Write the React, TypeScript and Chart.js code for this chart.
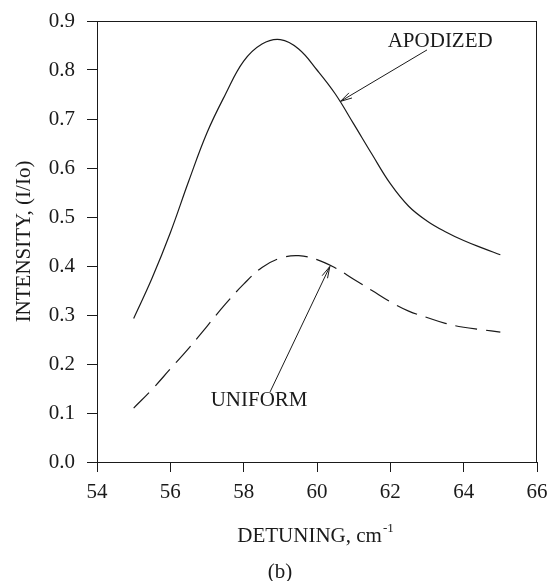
import React, { useEffect, useRef } from "react";
import { Chart, registerables } from "chart.js";

Chart.register(...registerables);

const detuning = [55, 55.5, 56, 56.5, 57, 57.5, 58, 58.5, 59, 59.5, 60, 60.5, 61, 61.5, 62, 62.5, 63, 63.5, 64, 64.5, 65];
const apodized = [0.293, 0.375, 0.468, 0.573, 0.672, 0.75, 0.818, 0.853, 0.862, 0.843, 0.8, 0.751, 0.69, 0.628, 0.568, 0.522, 0.492, 0.47, 0.452, 0.437, 0.423];
const uniform = [0.11, 0.148, 0.19, 0.232, 0.277, 0.322, 0.363, 0.397, 0.416, 0.421, 0.413, 0.396, 0.373, 0.35, 0.327, 0.308, 0.295, 0.283, 0.275, 0.27, 0.265];

const xTicks = [54, 56, 58, 60, 62, 64, 66];
const yTicks = [0, 0.1, 0.2, 0.3, 0.4, 0.5, 0.6, 0.7, 0.8, 0.9];

const seriesNames = ["APODIZED", "UNIFORM"];
// annotation anchors in data coordinates: [labelX, labelY, arrowFromX, arrowFromY, arrowToX, arrowToY]
const apodizedNote = [63.36, 0.859, 63.0, 0.841, 60.64, 0.736];
const uniformNote = [58.42, 0.125, 58.72, 0.143, 60.35, 0.399];

const xTitle = "DETUNING, cm";
const xTitleSup = "-1";
const yTitle = "INTENSITY, (I/Io)";
const caption = "(b)";

const FONT = "'Liberation Serif', 'DejaVu Serif', serif";
const INK = "#1a1a1a";
const FS = 21;

export default function App() {
  const ref = useRef<HTMLCanvasElement | null>(null);

  useEffect(() => {
    document.body.style.margin = "0";
    const canvas = ref.current!;
    const drawArrow = (ctx: CanvasRenderingContext2D, x1: number, y1: number, x2: number, y2: number) => {
      ctx.beginPath();
      ctx.moveTo(x1, y1);
      ctx.lineTo(x2, y2);
      ctx.stroke();
      const ang = Math.atan2(y2 - y1, x2 - x1);
      const len = 12;
      const spread = 0.25;
      ctx.beginPath();
      ctx.moveTo(x2 - len * Math.cos(ang - spread), y2 - len * Math.sin(ang - spread));
      ctx.lineTo(x2, y2);
      ctx.lineTo(x2 - len * Math.cos(ang + spread), y2 - len * Math.sin(ang + spread));
      ctx.stroke();
    };

    const overlay = {
      id: "overlay",
      afterDraw(chart: any) {
        const ctx: CanvasRenderingContext2D = chart.ctx;
        const { left, right, top, bottom } = chart.chartArea;
        const xs = chart.scales.x;
        const ys = chart.scales.y;
        ctx.save();
        ctx.strokeStyle = INK;
        ctx.lineWidth = 1;
        // frame top and right
        ctx.beginPath();
        ctx.moveTo(left, top + 0.5);
        ctx.lineTo(right, top + 0.5);
        ctx.moveTo(right - 0.5, top);
        ctx.lineTo(right - 0.5, bottom);
        ctx.stroke();

        ctx.fillStyle = INK;
        ctx.font = `${FS}px ${FONT}`;
        ctx.textAlign = "center";
        ctx.textBaseline = "middle";
        const notes = [apodizedNote, uniformNote];
        notes.forEach((n, i) => {
          ctx.fillText(seriesNames[i], xs.getPixelForValue(n[0]), ys.getPixelForValue(n[1]));
          drawArrow(
            ctx,
            xs.getPixelForValue(n[2]),
            ys.getPixelForValue(n[3]),
            xs.getPixelForValue(n[4]),
            ys.getPixelForValue(n[5])
          );
        });

        // x title with superscript
        ctx.textBaseline = "alphabetic";
        ctx.textAlign = "left";
        ctx.font = `${FS}px ${FONT}`;
        const w1 = ctx.measureText(xTitle).width;
        ctx.font = `13px ${FONT}`;
        const w2 = ctx.measureText(xTitleSup).width;
        const cx = (left + right) / 2;
        const startX = cx - (w1 + w2) / 2 - 2;
        ctx.font = `${FS}px ${FONT}`;
        ctx.fillText(xTitle, startX, 542);
        ctx.font = `13px ${FONT}`;
        ctx.fillText(xTitleSup, startX + w1 + 1, 532);

        ctx.font = `${FS}px ${FONT}`;
        ctx.textAlign = "center";
        ctx.fillText(caption, cx - 37, 578);

        // y title
        ctx.translate(24, (top + bottom) / 2);
        ctx.rotate(-Math.PI / 2);
        ctx.textBaseline = "middle";
        ctx.fillText(yTitle, 0, 0);
        ctx.restore();
      },
    };

    const chart = new Chart(canvas, {
      type: "line",
      data: {
        labels: detuning,
        datasets: [
          {
            label: seriesNames[0],
            data: detuning.map((x, i) => ({ x, y: apodized[i] })),
            borderColor: INK,
            borderWidth: 1.2,
            pointRadius: 0,
            tension: 0.4,
            fill: false,
          },
          {
            label: seriesNames[1],
            data: detuning.map((x, i) => ({ x, y: uniform[i] })),
            borderColor: INK,
            borderWidth: 1.2,
            borderDash: [22, 9],
            pointRadius: 0,
            tension: 0.4,
            fill: false,
          },
        ],
      },
      options: {
        animation: false,
        responsive: false,
        maintainAspectRatio: false,
        layout: { padding: { top: 21, right: 11, left: 0, bottom: 0 } },
        plugins: { legend: { display: false }, tooltip: { enabled: false }, title: { display: false } },
        scales: {
          x: {
            type: "linear",
            min: xTicks[0],
            max: xTicks[xTicks.length - 1],
            afterBuildTicks: (s: any) => {
              s.ticks = xTicks.map((v) => ({ value: v }));
            },
            afterFit: (s: any) => {
              s.height = 119;
              s.paddingLeft = 0;
              s.paddingRight = 0;
            },
            grid: { drawOnChartArea: false, drawTicks: true, tickLength: 10, color: INK, tickColor: INK },
            border: { display: true, color: INK, width: 1 },
            ticks: {
              color: INK,
              font: { family: FONT, size: FS },
              padding: 8,
              maxRotation: 0,
              callback: (v: any) => String(v),
            },
          },
          y: {
            type: "linear",
            min: yTicks[0],
            max: yTicks[yTicks.length - 1],
            afterBuildTicks: (s: any) => {
              s.ticks = yTicks.map((v) => ({ value: v }));
            },
            afterFit: (s: any) => {
              s.width = 97;
              s.paddingTop = 0;
              s.paddingBottom = 0;
            },
            grid: { drawOnChartArea: false, drawTicks: true, tickLength: 10, color: INK, tickColor: INK },
            border: { display: true, color: INK, width: 1 },
            ticks: {
              color: INK,
              font: { family: FONT, size: FS },
              padding: 12,
              callback: (v: any) => Number(v).toFixed(1),
            },
          },
        },
      },
      plugins: [overlay],
    });
    return () => chart.destroy();
  }, []);

  return (
    <div style={{ position: "absolute", left: 0, top: 0, width: 548, height: 581, background: "#fff" }}>
      <canvas ref={ref} width={548} height={581} style={{ width: 548, height: 581, display: "block" }} />
    </div>
  );
}
